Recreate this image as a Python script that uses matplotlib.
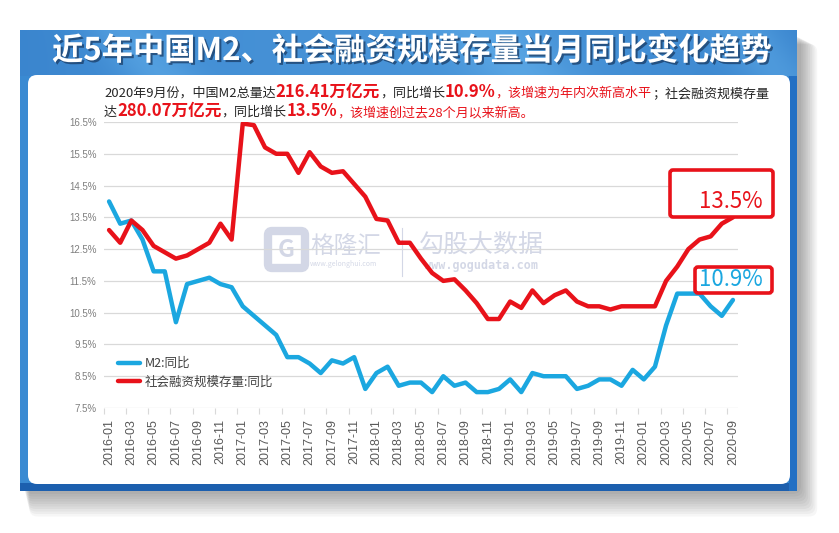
import matplotlib
matplotlib.use("Agg")
import matplotlib.pyplot as plt
import matplotlib.patheffects as pe
from matplotlib.patches import FancyBboxPatch, Rectangle
import numpy as np

plt.rcParams['font.family'] = ['Noto Sans CJK SC', 'DejaVu Sans']

# ---- data ----
months = [f"{y}-{m:02d}" for y in range(2016, 2021) for m in range(1, 13)][:57]

m2 = [14.0, 13.3, 13.4, 12.8, 11.8, 11.8, 10.2, 11.4, 11.5, 11.6, 11.4, 11.3,
      10.7, 10.4, 10.1, 9.8, 9.1, 9.1, 8.9, 8.6, 9.0, 8.9, 9.1, 8.1,
      8.6, 8.8, 8.2, 8.3, 8.3, 8.0, 8.5, 8.2, 8.3, 8.0, 8.0, 8.1,
      8.4, 8.0, 8.6, 8.5, 8.5, 8.5, 8.1, 8.2, 8.4, 8.4, 8.2, 8.7,
      8.4, 8.8, 10.1, 11.1, 11.1, 11.1, 10.7, 10.4, 10.9]

tsf = [13.1, 12.7, 13.4, 13.1, 12.6, 12.4, 12.2, 12.3, 12.5, 12.7, 13.3, 12.8,
       16.45, 16.4, 15.7, 15.5, 15.5, 14.9, 15.55, 15.1, 14.9, 14.95, 14.55, 14.15,
       13.45, 13.4, 12.7, 12.7, 12.2, 11.75, 11.5, 11.55, 11.2, 10.8, 10.3, 10.3,
       10.85, 10.65, 11.2, 10.8, 11.05, 11.2, 10.85, 10.7, 10.7, 10.6, 10.7, 10.7,
       10.7, 10.7, 11.5, 11.95, 12.5, 12.8, 12.9, 13.3, 13.5]

yticks = [7.5, 8.5, 9.5, 10.5, 11.5, 12.5, 13.5, 14.5, 15.5, 16.5]

series_names = ['M2:同比', '社会融资规模存量:同比']
title = '近5年中国M2、社会融资规模存量当月同比变化趋势'

line1 = [("2020年9月份，中国M2总量达", 'dark', 9.4, 'normal'),
         ("216.41万亿元", 'red', 12, 'bold'),
         ("，同比增长", 'dark', 9.4, 'normal'),
         ("10.9%", 'red', 12, 'bold'),
         ("，该增速为年内次新高水平", 'red', 9.4, 'normal'),
         ("；社会融资规模存量", 'dark', 9.4, 'normal')]
line2 = [("达", 'dark', 9.4, 'normal'),
         ("280.07万亿元", 'red', 12, 'bold'),
         ("，同比增长", 'dark', 9.4, 'normal'),
         ("13.5%", 'red', 12, 'bold'),
         ("，该增速创过去28个月以来新高。", 'red', 9.4, 'normal')]

BLUE = '#1ba7e0'
RED = '#e8121a'
DARK = '#262626'
colors = {'dark': DARK, 'red': RED}

W, H = 839, 533
fig = plt.figure(figsize=(W / 100, H / 100), dpi=100)
fig.patch.set_facecolor('white')
renderer = fig.canvas.get_renderer()

# background layer in pixel coordinates
bg = fig.add_axes([0, 0, 1, 1], zorder=0)
bg.set_xlim(0, W)
bg.set_ylim(H, 0)
bg.axis('off')

# soft shadow
for k in range(10):
    bg.add_patch(FancyBboxPatch((24 + k * 0.6, 36 + k * 0.9), 777 + k * 1.2, 458 + k * 1.6,
                                boxstyle="round,pad=0,rounding_size=8",
                                facecolor='#000000', edgecolor='none', alpha=0.035))

# blue frame
bg.add_patch(Rectangle((20, 30), 777, 461, facecolor='#3a8ad2', edgecolor='none'))
bg.add_patch(Rectangle((20, 483), 777, 8, facecolor='#1c5fae', edgecolor='none'))
bg.add_patch(Rectangle((789, 75), 8, 416, facecolor='#2370c4', edgecolor='none'))

# banner gradient with light diagonal bands
gx = np.linspace(0, 1, 400)
gy = np.linspace(0, 1, 46)
GX, GY = np.meshgrid(gx, gy)
c_dark = np.array([0.16, 0.45, 0.76])
c_light = np.array([0.36, 0.66, 0.90])
t = 0.35 + 0.25 * np.sin(np.pi * GX)
d = GX - 0.05 * GY
for centre, w in [(0.13, 0.05), (0.60, 0.07), (0.93, 0.05)]:
    t = t + 0.35 * np.exp(-((d - centre) / w) ** 2)
t = np.clip(t, 0, 1)[..., None]
img = c_dark * (1 - t) + c_light * t
bg.imshow(img, extent=[20, 797, 76, 30], aspect='auto', zorder=1)

# white panel
bg.add_patch(FancyBboxPatch((28, 75), 762, 409, boxstyle="round,pad=0,rounding_size=9",
                            facecolor='white', edgecolor='none', zorder=2))

bg.text(412, 51, title, color='white', fontsize=22.5, fontweight='bold',
        ha='center', va='center', zorder=3,
        path_effects=[pe.withSimplePatchShadow(offset=(1.5, -1.5),
                                               shadow_rgbFace='#17375f', alpha=0.7)])


def write_runs(x, y, runs):
    for s, c, size, weight in runs:
        txt = bg.text(x, y, s, color=colors[c], fontsize=size, fontweight=weight,
                      ha='left', va='baseline', zorder=3)
        x += txt.get_window_extent(renderer).width
    return x


write_runs(104, 97, line1)
write_runs(104, 116, line2)

# watermark
wm = '#c9cee0'
bg.add_patch(FancyBboxPatch((268, 231), 37, 37, boxstyle="round,pad=0,rounding_size=4",
                            facecolor='none', edgecolor=wm, lw=6, zorder=3, alpha=0.8))
bg.text(286.5, 250, 'G', color=wm, fontsize=17, fontweight='bold', ha='center',
        va='center', zorder=3, alpha=0.8)
bg.text(310, 246, '格隆汇', color=wm, fontsize=17, ha='left', va='center', zorder=3, alpha=0.8)
bg.text(310, 264, 'www.gelonghui.com', color=wm, fontsize=5, ha='left', va='center',
        zorder=3, alpha=0.8)
bg.plot([402, 402], [228, 276], color=wm, lw=0.8, zorder=3, alpha=0.8)
bg.text(419, 245, '勾股大数据', color=wm, fontsize=18, ha='left', va='center', zorder=3, alpha=0.8)
bg.text(424, 266, 'www.gogudata.com', color=wm, fontsize=8.5, family='DejaVu Sans Mono',
        fontweight='bold', ha='left', va='center', zorder=3, alpha=0.8)

# ---- main chart ----
left, right, top, bottom = 103.5, 738.5, 122, 408
ax = fig.add_axes([left / W, 1 - bottom / H, (right - left) / W, (bottom - top) / H], zorder=1)
ax.patch.set_alpha(0)
x = np.arange(len(months))
ax.plot(x, m2, color=BLUE, lw=3.2, label=series_names[0], solid_capstyle='round')
ax.plot(x, tsf, color=RED, lw=3.2, label=series_names[1], solid_capstyle='round')
ax.set_xlim(-0.5, len(months) - 0.5)
ax.set_ylim(yticks[0], yticks[-1])
ax.set_yticks(yticks)
ax.set_yticklabels([f"{v}%" for v in yticks], family='Liberation Sans', fontsize=7,
                   color='#7f7f7f')
ax.set_xticks(x[::2])
ax.set_xticklabels(months[::2], rotation=90, family='Liberation Sans', fontsize=9,
                   color='#595959')
ax.set_xticks(np.arange(-0.5, len(months), 2), minor=True)
ax.tick_params(axis='x', which='major', length=0, pad=8)
ax.tick_params(axis='x', which='minor', length=4, color='#d9d9d9', width=0.8)
ax.tick_params(axis='y', length=0, pad=5)
ax.grid(axis='y', color='#d9d9d9', lw=0.9)
ax.set_axisbelow(True)
for s in ax.spines.values():
    s.set_visible(False)

ax.legend(loc='upper left', bbox_to_anchor=(118 / W, 1 - 357 / H),
          bbox_transform=fig.transFigure, frameon=False, fontsize=9,
          handlelength=1.75, handletextpad=0.35, labelspacing=0.45,
          borderpad=0, borderaxespad=0, labelcolor='#404040')

# ---- annotation boxes ----
ov = fig.add_axes([0, 0, 1, 1], zorder=3)
ov.set_xlim(0, W)
ov.set_ylim(H, 0)
ov.axis('off')
ov.add_patch(FancyBboxPatch((670, 170), 103, 47, boxstyle="round,pad=0,rounding_size=3",
                            facecolor='white', edgecolor=RED, lw=2.6))
ov.text(731, 201, f"{tsf[-1]}%", color=RED, fontsize=16, ha='center', va='center')
ov.add_patch(FancyBboxPatch((695, 267), 77, 26, boxstyle="round,pad=0,rounding_size=3",
                            facecolor='white', edgecolor=RED, lw=2.6))
ov.text(731, 280, f"{m2[-1]}%", color=BLUE, fontsize=16, ha='center', va='center')

fig.savefig('out.png', dpi=100)
